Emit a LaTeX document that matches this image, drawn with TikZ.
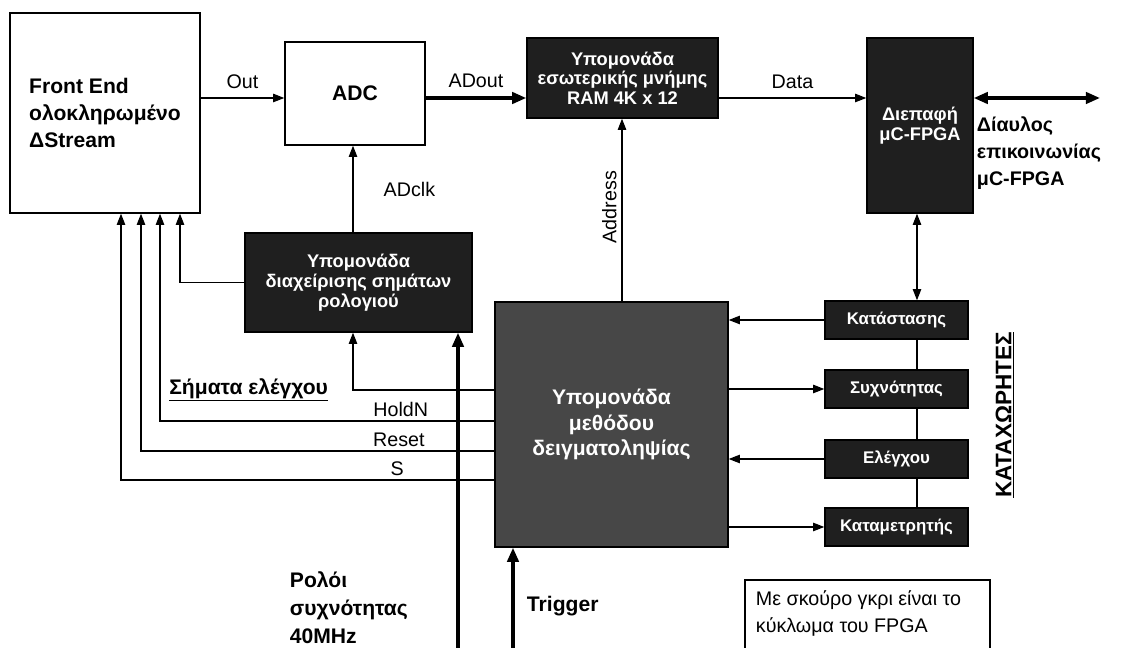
\documentclass[tikz,border=0pt]{standalone}
\usepackage{fontspec}
\setmainfont{Liberation Sans}
\usetikzlibrary{arrows.meta}
\tikzset{
	sz/.style 2 args={minimum width=#1*0.025cm, minimum height=#2*0.025cm},
	light/.style={draw, line width=1pt, fill=white, align=left, inner sep=2pt},
	dark/.style={draw, line width=1pt, fill=black!88, text=white, align=center, inner sep=1pt, font=\fontsize{13}{14}\selectfont\bfseries},
	sig/.style={line width=1pt, -{Triangle[length=8pt,width=6pt]}},
	both/.style={line width=1pt, {Triangle[length=8pt,width=6pt]}-{Triangle[length=8pt,width=6pt]}},
	bus/.style={line width=2.4pt, -{Triangle[length=10pt,width=8pt]}},
	lbl/.style={font=\fontsize{14}{18}\selectfont},
	blbl/.style={font=\fontsize{15}{19}\selectfont\bfseries, align=left},
	regbox/.style={dark, sz={143}{38}, font=\fontsize{12}{13}\selectfont\bfseries},
}
\begin{document}
\begin{tikzpicture}[x=0.025cm, y=-0.025cm]
	\useasboundingbox (0,0) rectangle (1121,648);
	%helper coordinates
	\coordinate (row) at (0,98);
	\coordinate (busend) at (1100,98);
	\coordinate (adclkx) at (353,0);
	\coordinate (addrx) at (622,0);
	\coordinate (regx) at (917,0);
	\coordinate (xs) at (121,0);
	\coordinate (xr) at (141,0);
	\coordinate (xh) at (160,0);
	\coordinate (xc) at (180,0);
	\coordinate (yc) at (0,390);
	\coordinate (yh) at (0,421);
	\coordinate (yr) at (0,451);
	\coordinate (ys) at (0,480);
	\coordinate (clkin) at (458,660);
	\coordinate (trgin) at (513,660);
	%blocks
	\node[light, sz={190}{200}, blbl] (fe) at (105,113) {Front End\\ολοκληρωμένο\\ΔStream};
	\node[light, sz={140}{103}, blbl, align=center] (adc) at (355,93.5) {ADC};
	\node[dark, sz={191}{80}] (ram) at (622.5,78) {Υπομονάδα\\εσωτερικής μνήμης\\RAM 4K x 12};
	\node[dark, sz={106}{175}] (uc) at (920,125.5) {Διεπαφή\\μC-FPGA};
	\node[dark, sz={227}{99}] (clk) at (358.5,282.5) {Υπομονάδα\\διαχείρισης σημάτων\\ρολογιού};
	\node[dark, fill=black!72, sz={233}{245}, font=\fontsize{15}{18}\selectfont\bfseries] (samp) at (611.5,424.5) {Υπομονάδα\\μεθόδου\\δειγματοληψίας};
	%registers
	\node[regbox] (reg1) at (896.5,320) {Κατάστασης};
	\node[regbox] (reg2) at (896.5,389) {Συχνότητας};
	\node[regbox] (reg3) at (896.5,459) {Ελέγχου};
	\node[regbox] (reg4) at (896.5,527) {Καταμετρητής};
	\node[rotate=90, font=\fontsize{16}{18}\selectfont\bfseries] (regl) at (1005,415) {\underline{ΚΑΤΑΧΩΡΗΤΕΣ}};
	%data path
	\draw[sig] (fe.east |- row) -- node[above=3pt, lbl] (outl) {Out} (adc.west |- row);
	\draw[bus] (adc.east |- row) -- node[above=3pt, lbl] (adoutl) {ADout} (ram.west |- row);
	\draw[sig] (ram.east |- row) -- node[above=3pt, lbl] (datal) {Data} (uc.west |- row);
	\draw[bus, {Triangle[length=10pt,width=8pt]}-{Triangle[length=10pt,width=8pt]}] (uc.east |- row) -- (busend);
	\node[blbl, anchor=north west, font=\fontsize{14}{19}\selectfont\bfseries] (busl) at (972,112) {Δίαυλος\\επικοινωνίας\\μC-FPGA};
	\draw[sig] (clk.north -| adclkx) -- node[right=18pt, lbl] (adclkl) {ADclk} (adc.south -| adclkx);
	\draw[sig] (samp.north -| addrx) -- node[above=2pt, rotate=90, lbl] (addrl) {Address} (ram.south -| addrx);
	%registers links
	\draw[both] (uc.south -| regx) -- (reg1.north -| regx);
	\draw[line width=1pt] (reg1.south -| regx) -- (reg2.north -| regx);
	\draw[line width=1pt] (reg2.south -| regx) -- (reg3.north -| regx);
	\draw[line width=1pt] (reg3.south -| regx) -- (reg4.north -| regx);
	\draw[sig] (reg1.west) -- (samp.east |- reg1.west);
	\draw[sig] (samp.east |- reg2.west) -- (reg2.west);
	\draw[sig] (reg3.west) -- (samp.east |- reg3.west);
	\draw[sig] (samp.east |- reg4.west) -- (reg4.west);
	%control signals
	\draw[sig] (clk.west) -| (fe.south -| xc);
	\draw[sig] (samp.west |- yc) -| node[left=14pt, blbl] (ctrll) {\underline{Σήματα ελέγχου}} (clk.south -| adclkx);
	\draw[sig] (samp.west |- yh) -| node[pos=0.14, above=-1pt, lbl] (holdl) {HoldN} (fe.south -| xh);
	\draw[sig] (samp.west |- yr) -| node[pos=0.135, above=-1pt, lbl] (resetl) {Reset} (fe.south -| xr);
	\draw[sig] (samp.west |- ys) -| node[pos=0.13, above=-1pt, lbl] (sl) {S} (fe.south -| xs);
	%inputs
	\draw[bus] (clkin) -- (clk.south -| clkin);
	\node[blbl, anchor=west, font=\fontsize{15}{20}\selectfont\bfseries] (clkl) at (285,608) {Ρολόι\\συχνότητας\\40MHz};
	\draw[bus] (trgin) -- (samp.south -| trgin);
	\node[blbl, anchor=west] (trgl) at (522,606) {Trigger};
	%note
	\draw[line width=1pt] (745,670) |- (990,580) -- (990,670);
	\node[lbl, anchor=north west, align=left, font=\fontsize{14}{19}\selectfont] (note) at (751,586) {Με σκούρο γκρι είναι το\\κύκλωμα του FPGA};
\end{tikzpicture}
\end{document}
